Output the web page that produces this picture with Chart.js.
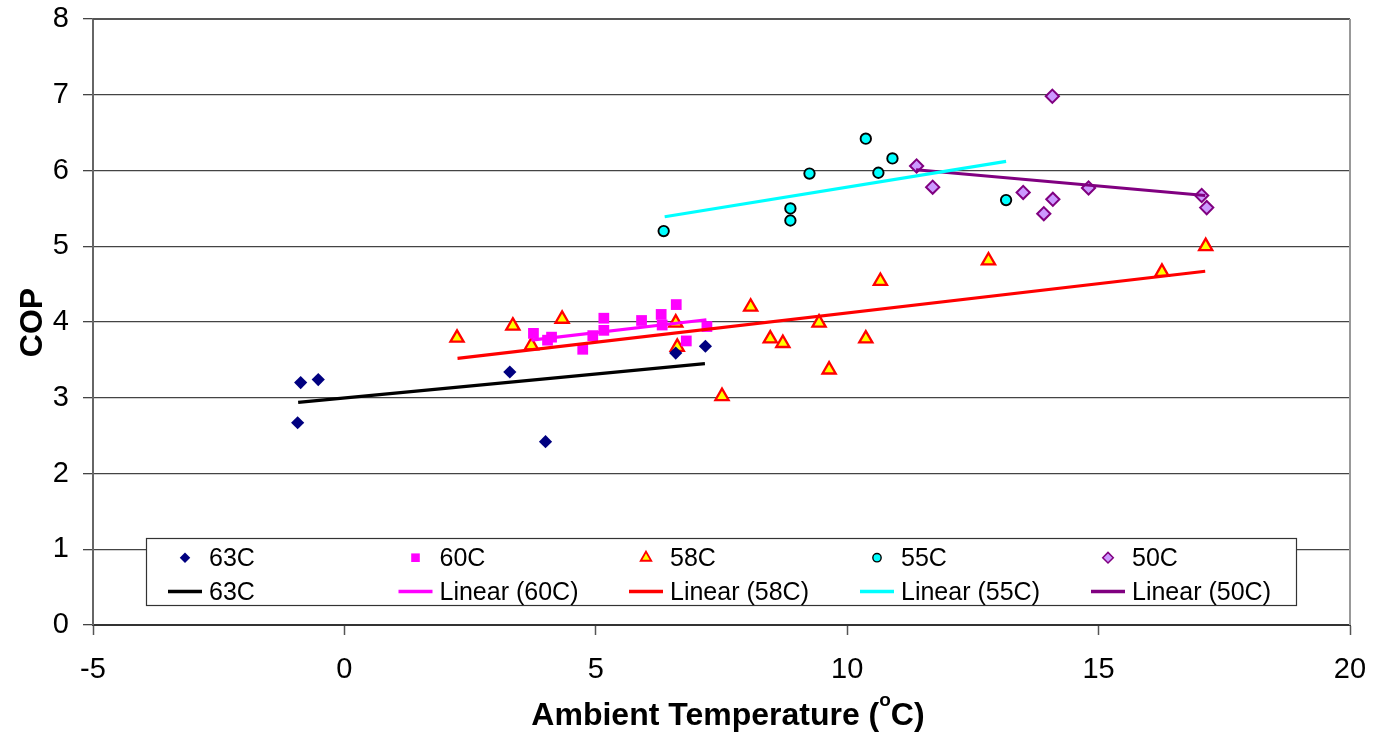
<!DOCTYPE html>
<html>
<head>
<meta charset="utf-8">
<title>COP vs Ambient Temperature</title>
<script src="https://cdn.jsdelivr.net/npm/chart.js"></script>
<style>
  html, body { margin: 0; padding: 0; background: #fff; }
  #wrap { width: 1373px; height: 735px; }
</style>
</head>
<body>
<div id="wrap"><canvas id="copChart" width="1373" height="735"></canvas></div>
<script>
// measured points, one pair of arrays per supply temperature
const x63 = [-0.87, -0.52, -0.93, 3.29, 4.00, 6.59, 7.18];
const y63 = [3.20, 3.24, 2.67, 3.34, 2.42, 3.59, 3.68];

const x60 = [3.76, 4.04, 4.12, 4.74, 4.94, 5.16, 5.16, 5.91, 6.30, 6.32, 6.60, 6.80, 7.21];
const y60 = [3.85, 3.76, 3.80, 3.64, 3.82, 4.05, 3.89, 4.02, 4.10, 3.96, 4.23, 3.75, 3.94];

const x58 = [2.24, 3.35, 3.72, 4.33, 6.59, 6.62, 7.51, 8.08, 8.47, 8.72, 9.44, 9.64, 10.37, 10.66, 12.81, 16.26, 17.13];
const y58 = [3.79, 3.95, 3.69, 4.04, 3.99, 3.67, 3.02, 4.20, 3.78, 3.72, 3.99, 3.37, 3.78, 4.54, 4.81, 4.66, 5.00];

const x55 = [6.35, 8.87, 8.87, 9.25, 10.37, 10.62, 10.90, 13.16];
const y55 = [5.20, 5.50, 5.34, 5.96, 6.42, 5.97, 6.16, 5.61];

const x50 = [11.38, 11.70, 13.50, 13.91, 14.09, 14.08, 14.80, 17.05, 17.15];
const y50 = [6.06, 5.78, 5.71, 5.43, 5.62, 6.98, 5.77, 5.67, 5.51];

// linear trend line end points
const trend63x = [-0.92, 7.17], trend63y = [2.94, 3.45];
const trend60x = [3.72, 7.20], trend60y = [3.76, 4.03];
const trend58x = [2.25, 17.12], trend58y = [3.52, 4.67];
const trend55x = [6.37, 13.16], trend55y = [5.39, 6.12];
const trend50x = [11.37, 17.12], trend50y = [6.01, 5.67];

const xTicks = [-5, 0, 5, 10, 15, 20];
const yTicks = [0, 1, 2, 3, 4, 5, 6, 7, 8];

const FONT = "'Liberation Sans', Arial, sans-serif";

function pts(xs, ys) {
  return xs.map((x, i) => ({ x: x, y: ys[i] }));
}

// series styles (legend uses the same list)
const series = [
  { label: '63C', xs: x63, ys: y63, style: 'rectRot', r: 6.6, fill: '#000080', stroke: '#000080', bw: 0 },
  { label: '60C', xs: x60, ys: y60, style: 'rect', r: 7.6, fill: '#FF00FF', stroke: '#FF00FF', bw: 0 },
  { label: '58C', xs: x58, ys: y58, style: 'triangle', r: 7.6, fill: '#FFFF00', stroke: '#FF0000', bw: 2.3 },
  { label: '55C', xs: x55, ys: y55, style: 'circle', r: 5.2, fill: '#00FFFF', stroke: '#000000', bw: 1.9 },
  { label: '50C', xs: x50, ys: y50, style: 'rectRot', r: 6.6, fill: '#CC99FF', stroke: '#800080', bw: 2 }
];
const trends = [
  { label: '63C', xs: trend63x, ys: trend63y, color: '#000000' },
  { label: 'Linear (60C)', xs: trend60x, ys: trend60y, color: '#FF00FF' },
  { label: 'Linear (58C)', xs: trend58x, ys: trend58y, color: '#FF0000' },
  { label: 'Linear (55C)', xs: trend55x, ys: trend55y, color: '#00FFFF' },
  { label: 'Linear (50C)', xs: trend50x, ys: trend50y, color: '#800080' }
];

const datasets = [];
series.forEach(s => {
  datasets.push({
    type: 'scatter',
    label: s.label,
    data: pts(s.xs, s.ys),
    pointStyle: s.style,
    pointRadius: s.r,
    pointHoverRadius: s.r,
    pointBackgroundColor: s.fill,
    pointBorderColor: s.stroke,
    pointBorderWidth: s.bw,
    order: 2
  });
});
trends.forEach(t => {
  datasets.push({
    type: 'scatter',
    label: t.label,
    data: pts(t.xs, t.ys),
    showLine: true,
    borderColor: t.color,
    borderWidth: 3.2,
    pointRadius: 0,
    pointHoverRadius: 0,
    order: 1
  });
});

// small marker painter for the legend
function marker(ctx, style, x, y, r) {
  ctx.beginPath();
  if (style === 'rectRot') {
    ctx.moveTo(x - r, y); ctx.lineTo(x, y - r); ctx.lineTo(x + r, y); ctx.lineTo(x, y + r);
  } else if (style === 'rect') {
    const h = r * Math.SQRT1_2;
    ctx.rect(x - h, y - h, 2 * h, 2 * h);
  } else if (style === 'triangle') {
    for (let k = 0; k < 3; k++) {
      const a = -Math.PI / 2 + k * 2 * Math.PI / 3;
      const px = x + Math.cos(a) * r, py = y + Math.sin(a) * r;
      if (k === 0) ctx.moveTo(px, py); else ctx.lineTo(px, py);
    }
  } else {
    ctx.arc(x, y, r, 0, Math.PI * 2);
  }
  ctx.closePath();
}

const decorations = {
  id: 'decorations',
  afterDatasetsDraw(chart) {
    const ctx = chart.ctx, a = chart.chartArea;
    ctx.save();
    // plot frame: top and right edges
    ctx.strokeStyle = '#555';
    ctx.lineWidth = 2;
    ctx.beginPath();
    ctx.moveTo(a.left, a.top); ctx.lineTo(a.right, a.top);
    ctx.stroke();
    ctx.strokeStyle = '#999';
    ctx.beginPath();
    ctx.moveTo(a.right, a.top); ctx.lineTo(a.right, a.bottom);
    ctx.stroke();
    ctx.restore();
  },
  afterDraw(chart) {
    const ctx = chart.ctx;
    ctx.save();
    ctx.fillStyle = '#000';

    // y axis title
    ctx.save();
    ctx.translate(41.5, 322.5);
    ctx.rotate(-Math.PI / 2);
    ctx.font = 'bold 32px ' + FONT;
    ctx.textAlign = 'center';
    ctx.textBaseline = 'alphabetic';
    ctx.fillText('COP', 0, 0);
    ctx.restore();

    // x axis title with superscript o
    const partA = 'Ambient Temperature (', sup = 'o', partB = 'C)';
    ctx.textBaseline = 'alphabetic';
    ctx.textAlign = 'left';
    ctx.font = 'bold 32px ' + FONT;
    const wA = ctx.measureText(partA).width, wB = ctx.measureText(partB).width;
    ctx.font = 'bold 19px ' + FONT;
    const wS = ctx.measureText(sup).width;
    let tx = 728 - (wA + wS + wB) / 2;
    const base = 725;
    ctx.font = 'bold 32px ' + FONT;
    ctx.fillText(partA, tx, base); tx += wA;
    ctx.font = 'bold 19px ' + FONT;
    ctx.fillText(sup, tx, base - 19); tx += wS;
    ctx.font = 'bold 32px ' + FONT;
    ctx.fillText(partB, tx, base);

    // legend box inside the plot
    ctx.fillStyle = '#fff';
    ctx.fillRect(146, 538, 1150, 67);
    ctx.strokeStyle = '#333';
    ctx.lineWidth = 1.2;
    ctx.strokeRect(146.5, 538.5, 1150, 67);

    const colX = [185, 415.5, 646, 877, 1108];
    const rowY = [557.7, 591.5];
    ctx.font = '25px ' + FONT;
    ctx.textBaseline = 'alphabetic';
    series.forEach((s, i) => {
      const cx = colX[i];
      ctx.fillStyle = s.fill;
      ctx.strokeStyle = s.stroke;
      ctx.lineWidth = s.bw ? Math.max(1.2, s.bw - 0.5) : 0;
      marker(ctx, s.style, cx, rowY[0], s.r * 0.8);
      ctx.fill();
      if (s.bw) ctx.stroke();
      ctx.fillStyle = '#000';
      ctx.fillText(s.label, cx + 24, rowY[0] + 8.5);
    });
    trends.forEach((t, i) => {
      const cx = colX[i];
      ctx.strokeStyle = t.color;
      ctx.lineWidth = 3.5;
      ctx.beginPath();
      ctx.moveTo(cx - 17, rowY[1]); ctx.lineTo(cx + 17, rowY[1]);
      ctx.stroke();
      ctx.fillStyle = '#000';
      ctx.fillText(t.label, cx + 24, rowY[1] + 8.7);
    });
    ctx.restore();
  }
};

const ctx = document.getElementById('copChart').getContext('2d');
const copChart = new Chart(ctx, {
  type: 'scatter',
  data: { datasets: datasets },
  options: {
    responsive: false,
    animation: false,
    events: [],
    layout: { padding: { top: 19, right: 23, left: 0, bottom: 0 } },
    scales: {
      x: {
        type: 'linear',
        min: -5,
        max: 20,
        afterFit: scale => {
          scale.height = 110;
          scale.paddingLeft = 0;
          scale.paddingRight = 0;
        },
        afterBuildTicks: scale => { scale.ticks = xTicks.map(v => ({ value: v })); },
        ticks: {
          color: '#000',
          padding: 18,
          maxRotation: 0,
          font: { family: FONT, size: 29 }
        },
        grid: {
          drawOnChartArea: false,
          tickLength: 10,
          tickColor: '#555',
          tickWidth: 1.5
        },
        border: { color: '#333', width: 2 }
      },
      y: {
        min: 0,
        max: 8,
        afterFit: scale => {
          scale.width = 93;
          scale.paddingTop = 0;
          scale.paddingBottom = 0;
        },
        afterBuildTicks: scale => { scale.ticks = yTicks.map(v => ({ value: v })); },
        ticks: {
          color: '#000',
          padding: 14,
          font: { family: FONT, size: 29 }
        },
        grid: {
          color: '#444',
          lineWidth: 1.3,
          tickLength: 10,
          tickColor: '#444'
        },
        border: { color: '#666', width: 2 }
      }
    },
    plugins: {
      legend: { display: false },
      tooltip: { enabled: false }
    }
  },
  plugins: [decorations]
});
</script>
</body>
</html>
